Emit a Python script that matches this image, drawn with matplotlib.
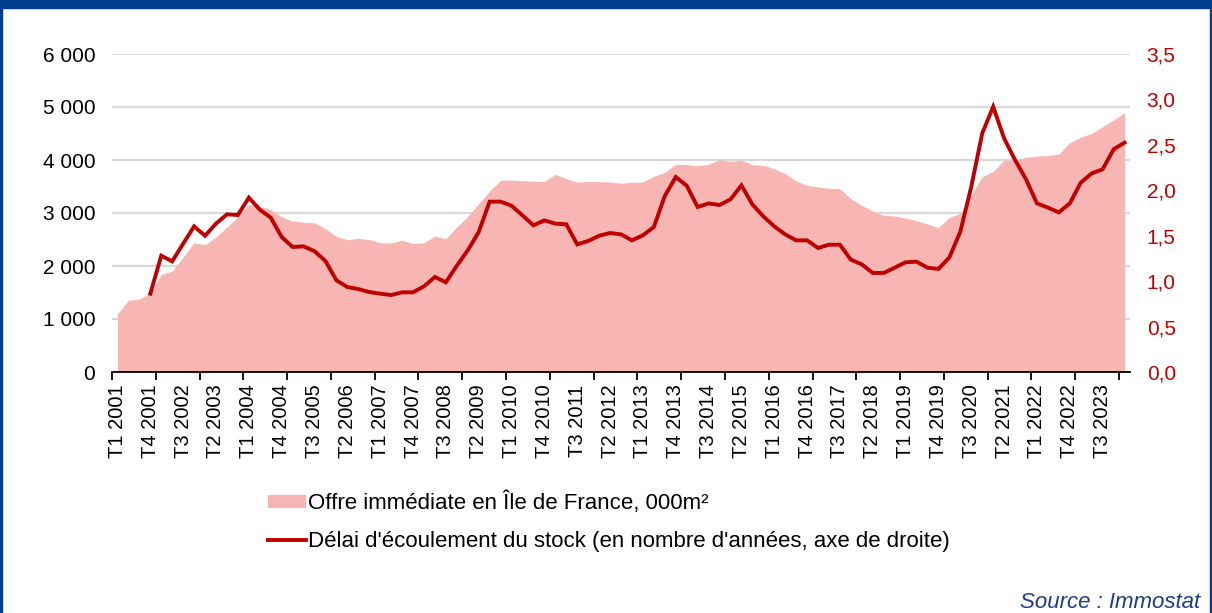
import numpy as np
import matplotlib
matplotlib.use("Agg")
import matplotlib.pyplot as plt
from matplotlib.patches import Rectangle
from matplotlib.ticker import FuncFormatter

plt.rcParams['font.family'] = ['Liberation Sans', 'DejaVu Sans']

# quarters T1 2001 .. T1 2024
quarters = [f"T{q} {y}" for y in range(2001, 2025) for q in range(1, 5)][:93]

# Offre immediate en Ile de France (000 m2)
offre = [1100, 1352, 1377, 1490, 1843, 1906, 2170, 2440, 2403, 2547,
         2736, 2925, 3164, 3126, 3063, 2925, 2849, 2824, 2815, 2704,
         2560, 2497, 2522, 2497, 2440, 2434, 2484, 2421, 2440, 2566,
         2516, 2736, 2937, 3176, 3415, 3616, 3620, 3610, 3597, 3597,
         3730, 3648, 3579, 3597, 3591, 3585, 3560, 3579, 3585, 3692,
         3767, 3918, 3912, 3893, 3920, 4006, 3975, 3994, 3912, 3899,
         3836, 3742, 3604, 3522, 3491, 3465, 3459, 3270, 3145, 3038,
         2956, 2943, 2905, 2855, 2792, 2723, 2918, 2994, 3340, 3686,
         3780, 4000, 4000, 4050, 4075, 4082, 4113, 4327, 4428, 4503,
         4629, 4755, 4893]

# Delai d'ecoulement du stock (annees), starts T4 2001
delai = [np.nan, np.nan, np.nan,
         0.862, 1.280, 1.218, 1.412, 1.603, 1.500, 1.633, 1.735, 1.728,
         1.919, 1.787, 1.699, 1.486, 1.376, 1.383, 1.330, 1.222, 1.009,
         0.935, 0.913, 0.880, 0.862, 0.847, 0.877, 0.877, 0.943, 1.046,
         0.987, 1.170, 1.339, 1.541, 1.875, 1.875, 1.830, 1.724, 1.614,
         1.669, 1.633, 1.625, 1.405, 1.442, 1.500, 1.530, 1.515, 1.449,
         1.504, 1.596, 1.937, 2.146, 2.051, 1.816, 1.855, 1.838, 1.900,
         2.054, 1.845, 1.713, 1.603, 1.515, 1.449, 1.449, 1.365, 1.401,
         1.401, 1.236, 1.185, 1.090, 1.090, 1.148, 1.208, 1.214, 1.148,
         1.134, 1.262, 1.544, 2.040, 2.627, 2.920, 2.572, 2.333, 2.120,
         1.856, 1.809, 1.757, 1.856, 2.084, 2.186, 2.231, 2.451, 2.524]

pink = '#F7B6B3'
red = '#C00000'
blue = '#003D8F'

fig = plt.figure(figsize=(12.12, 6.13), dpi=100)
ax = fig.add_axes([112/1212, 1-372/613, (1130-112)/1212, (372-54)/613])
x = np.arange(len(quarters))

ax.fill_between(x, 0, offre, color=pink, linewidth=0, label="Offre immédiate en Île de France, 000m²")
ax.set_xlim(-0.5, len(quarters) - 0.5)
ax.set_ylim(0, 6000)
ax.set_yticks(np.arange(0, 6001, 1000))
ax.yaxis.set_major_formatter(FuncFormatter(lambda v, p: f"{int(v):,}".replace(",", " ")))
ax.set_axisbelow(True)
ax.grid(axis='y', color='#D9D9D9', linewidth=1.6)
ax.tick_params(axis='y', length=0, pad=12, labelsize=15, colors='black')

ax.set_xticks(x[::3])
ax.set_xticklabels(quarters[::3], rotation=90)
ax.set_xticks(np.arange(-0.5, len(quarters) - 1, 4), minor=True)
ax.tick_params(axis='x', which='major', length=0, pad=9, labelsize=14.5)
ax.tick_params(axis='x', which='minor', length=6, width=1.3, direction='out', color='black')
for s in ['top', 'left', 'right']:
    ax.spines[s].set_visible(False)
ax.spines['bottom'].set_linewidth(1.3)

ax2 = ax.twinx()
ax2.plot(x, delai, color=red, linewidth=2.8, solid_joinstyle='miter',
         label="Délai d'écoulement du stock (en nombre d'années, axe de droite)")
ax2.set_ylim(0, 3.5)
ax2.set_yticks(np.arange(0, 3.51, 0.5))
ax2.yaxis.set_major_formatter(FuncFormatter(lambda v, p: f"{v:.1f}".replace(".", ",")))
ax2.tick_params(axis='y', length=0, pad=12, labelsize=15, colors=red)
for s in ax2.spines.values():
    s.set_visible(False)

h1, l1 = ax.get_legend_handles_labels()
h2, l2 = ax2.get_legend_handles_labels()
fig.legend(h1 + h2, l1 + l2, loc='upper left', bbox_to_anchor=(268/1212, 1-492/613),
           frameon=False, fontsize=16, handlelength=1.7, handleheight=0.5,
           handletextpad=0.1, labelspacing=0.75, borderpad=0, borderaxespad=0)

# frame
fig.patches.append(Rectangle((0, 1-8/613), 1, 8/613, transform=fig.transFigure, color=blue, zorder=5))
fig.patches.append(Rectangle((0, 0), 2.5/1212, 1, transform=fig.transFigure, color=blue, zorder=5))
fig.patches.append(Rectangle((1-2.5/1212, 0), 2.5/1212, 1, transform=fig.transFigure, color=blue, zorder=5))

fig.text(1200/1212, 1-602/613, "Source : Immostat", ha='right', va='center',
         fontsize=16, style='italic', color='#1F3C88')

fig.savefig("out.png", dpi=100)
